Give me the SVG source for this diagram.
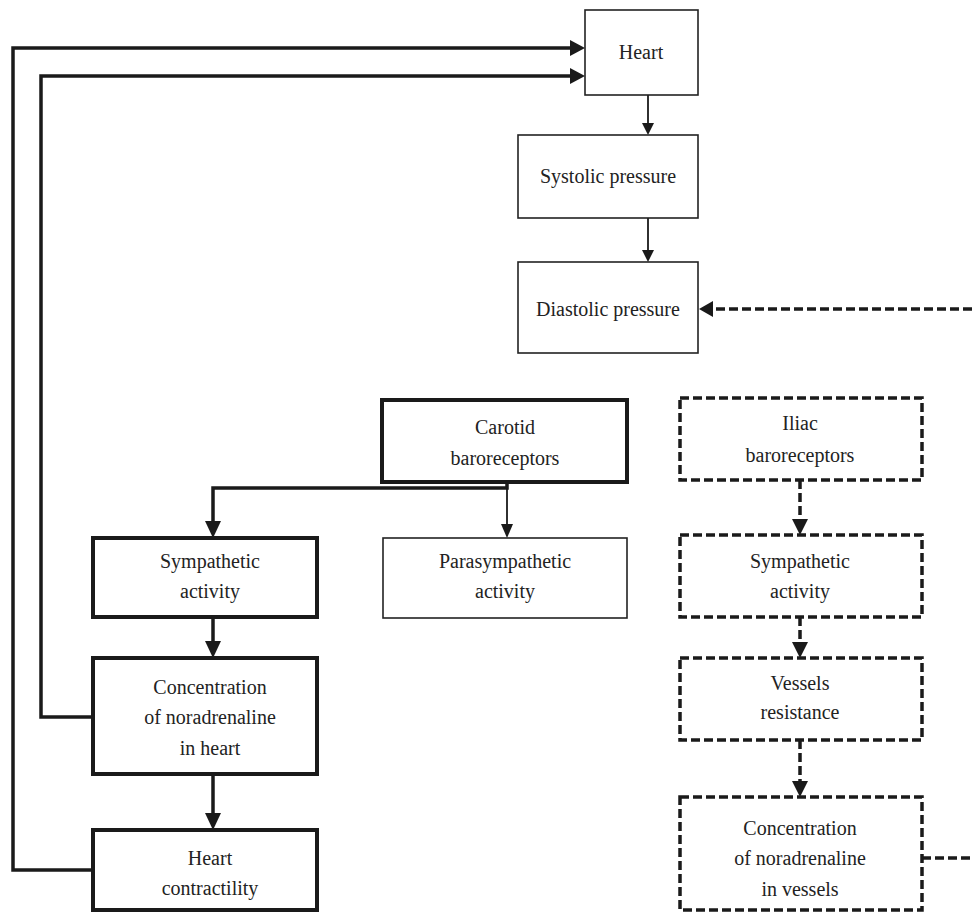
<svg xmlns="http://www.w3.org/2000/svg" width="972" height="916" viewBox="0 0 972 916">
<style>
text{font-family:"Liberation Serif","Times New Roman",serif;font-size:20px;fill:#222;text-anchor:middle}
.thin{fill:#fff;stroke:#222;stroke-width:1.6}
.bold{fill:#fff;stroke:#1a1a1a;stroke-width:4}
.dash{fill:#fff;stroke:#1a1a1a;stroke-width:3.5;stroke-dasharray:9 4}
.c1{fill:none;stroke:#1a1a1a;stroke-width:1.8}
.c3{fill:none;stroke:#1a1a1a;stroke-width:3.5}
.cd{fill:none;stroke:#1a1a1a;stroke-width:3.5;stroke-dasharray:9 4}
.ah{fill:#1a1a1a}
</style>
<rect width="972" height="916" fill="#fff"/>
<g id="connectors">
<path class="c3" d="M93 870H13V48H572"/>
<polygon class="ah" points="585,48 570,40 570,56"/>
<path class="c3" d="M93 717H41V76H572"/>
<polygon class="ah" points="585,76 570,68 570,84"/>
<path class="c1" d="M648 95V124"/>
<polygon class="ah" points="648,135 642,123 654,123"/>
<path class="c1" d="M648 218V251"/>
<polygon class="ah" points="648,262 642,250 654,250"/>
<path class="cd" d="M972 309H712"/>
<polygon class="ah" points="699,309 713,301 713,317"/>
<path class="c3" d="M507 482V488H213V522"/>
<polygon class="ah" points="213,538 205,521 221,521"/>
<path class="c1" d="M507 488V525"/>
<polygon class="ah" points="507,538 501,524 513,524"/>
<path class="c3" d="M213 617V642"/>
<polygon class="ah" points="213,658 205,641 221,641"/>
<path class="c3" d="M213 774V814"/>
<polygon class="ah" points="213,830 205,813 221,813"/>
<path class="cd" d="M800 480V520"/>
<polygon class="ah" points="800,535 792,519 808,519"/>
<path class="cd" d="M800 617V643"/>
<polygon class="ah" points="800,658 792,642 808,642"/>
<path class="cd" d="M800 740V782"/>
<polygon class="ah" points="800,797 792,781 808,781"/>
<path class="cd" d="M922 858H972"/>
</g>
<g id="heart"><rect class="thin" x="585" y="10" width="113" height="85"/><text x="641" y="59">Heart</text></g>
<g id="systolic"><rect class="thin" x="518" y="135" width="180" height="83"/><text x="608" y="183">Systolic pressure</text></g>
<g id="diastolic"><rect class="thin" x="518" y="262" width="180" height="91"/><text x="608" y="316">Diastolic pressure</text></g>
<g id="carotid"><rect class="bold" x="382" y="400" width="245" height="82"/><text x="505" y="434">Carotid</text><text x="505" y="465">baroreceptors</text></g>
<g id="sympathetic1"><rect class="bold" x="93" y="538" width="224" height="79"/><text x="210" y="568">Sympathetic</text><text x="210" y="598">activity</text></g>
<g id="parasympathetic"><rect class="thin" x="383" y="538" width="244" height="80"/><text x="505" y="568">Parasympathetic</text><text x="505" y="598">activity</text></g>
<g id="conc-heart"><rect class="bold" x="93" y="658" width="224" height="116"/><text x="210" y="694">Concentration</text><text x="210" y="724">of noradrenaline</text><text x="210" y="755">in heart</text></g>
<g id="contractility"><rect class="bold" x="93" y="830" width="224" height="80"/><text x="210" y="865">Heart</text><text x="210" y="895">contractility</text></g>
<g id="iliac"><rect class="dash" x="680" y="398" width="242" height="82"/><text x="800" y="430">Iliac</text><text x="800" y="462">baroreceptors</text></g>
<g id="sympathetic2"><rect class="dash" x="680" y="535" width="242" height="82"/><text x="800" y="568">Sympathetic</text><text x="800" y="598">activity</text></g>
<g id="resistance"><rect class="dash" x="680" y="658" width="242" height="82"/><text x="800" y="690">Vessels</text><text x="800" y="719">resistance</text></g>
<g id="conc-vessels"><rect class="dash" x="680" y="797" width="242" height="113"/><text x="800" y="835">Concentration</text><text x="800" y="865">of noradrenaline</text><text x="800" y="896">in vessels</text></g>
</svg>
